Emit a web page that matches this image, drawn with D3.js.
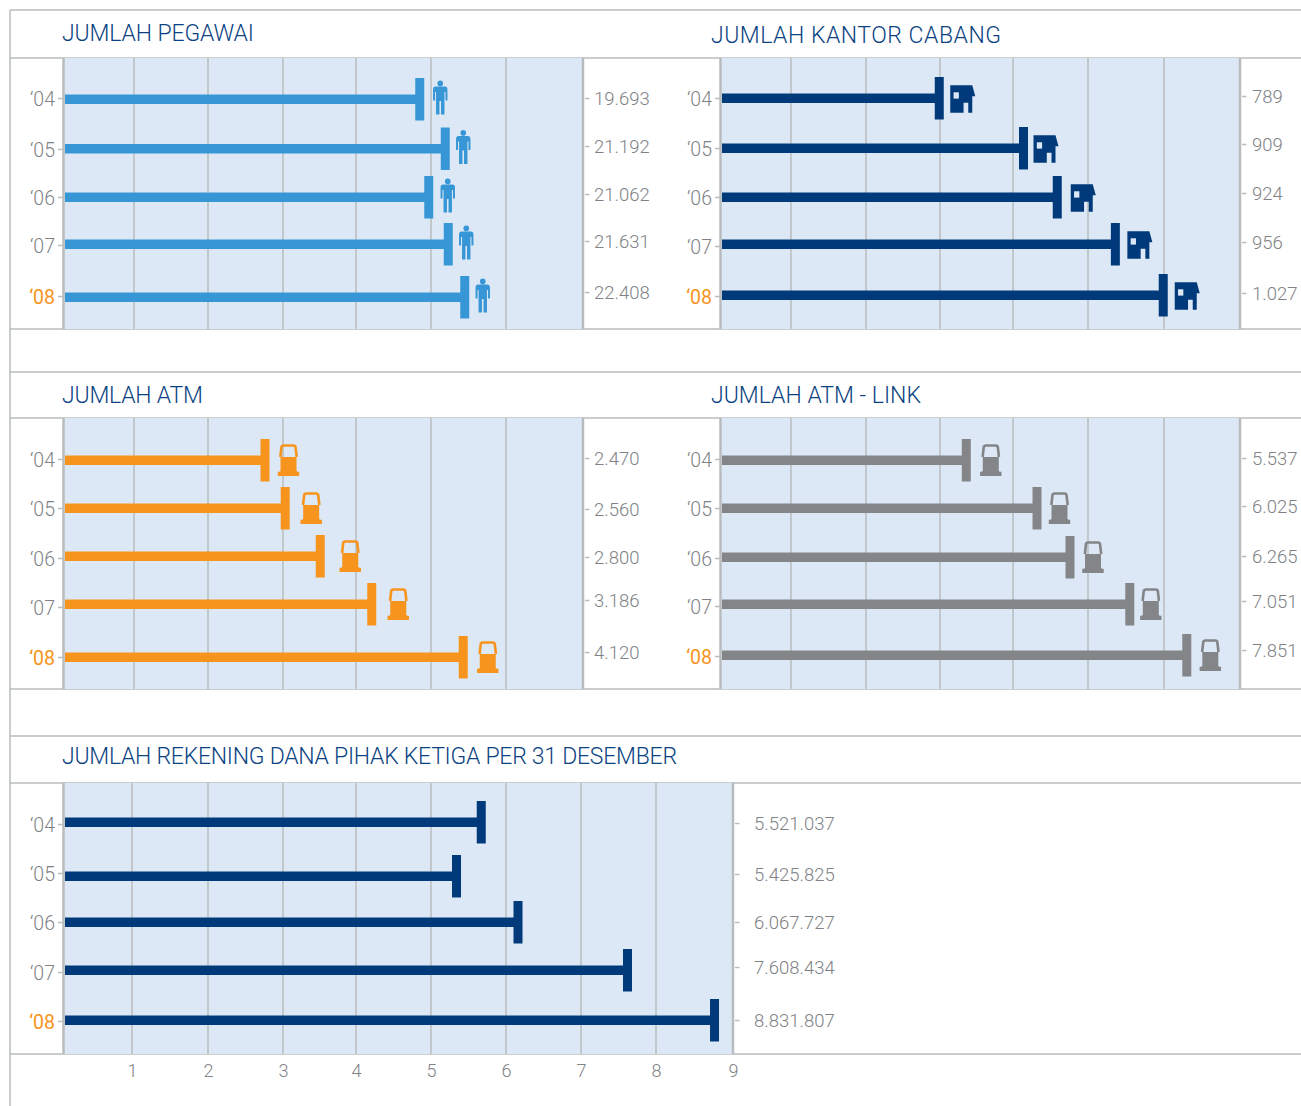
<!DOCTYPE html>
<html><head><meta charset="utf-8">
<script src="https://cdn.jsdelivr.net/npm/d3@7"></script>
<style>html,body{margin:0;padding:0;background:#fff}svg{display:block}text{font-family:Roboto,sans-serif;font-weight:300}</style>
</head><body><div id="c"></div>
<script>
const years = ["‘04","‘05","‘06","‘07","‘08"];
const axisTicks = [1,2,3,4,5,6,7,8,9];
const titles = ["JUMLAH PEGAWAI","JUMLAH KANTOR CABANG","JUMLAH ATM","JUMLAH ATM - LINK","JUMLAH REKENING DANA PIHAK KETIGA PER 31 DESEMBER"];
// Printed labels
const pegawaiLabels = ["19.693","21.192","21.062","21.631","22.408"];
const cabangLabels = ["789","909","924","956","1.027"];
const atmLabels = ["2.470","2.560","2.800","3.186","4.120"];
const linkLabels = ["5.537","6.025","6.265","7.051","7.851"];
const rekeningLabels = ["5.521.037","5.425.825","6.067.727","7.608.434","8.831.807"];
// Bar lengths as read against the gridlines (grid units)
const pegawaiBars = [4.85,5.19,4.97,5.23,5.45];
const cabangBars = [2.99,4.14,4.59,5.36,5.99];
const atmBars = [2.76,3.03,3.51,4.21,5.43];
const linkBars = [3.36,4.32,4.76,5.55,6.30];
const rekeningBars = [5.67,5.34,6.16,7.62,8.76];

const W=1301,H=1106,line="#b9bcbe",bg="#dde8f6",grey="#808285",orange="#f7941d";
const svg=d3.select("#c").append("svg").attr("width",W).attr("height",H);

// frame
[10,58,329,372,418,689,736,783,1054].forEach(y=>svg.append("line").attr("x1",10).attr("x2",W).attr("y1",y).attr("y2",y).attr("stroke",line).attr("stroke-width",1.5));
svg.append("line").attr("x1",10).attr("x2",10).attr("y1",10).attr("y2",H).attr("stroke",line).attr("stroke-width",1.5);

const icons={
 person:(g,c)=>{g.append("circle").attr("cy",-14.6).attr("r",2.8).attr("fill",c);
  g.append("path").attr("fill",c).attr("d","M-5,-11.5H5Q7.2,-11.5 7.2,-9V2.5H5.2V-6H4.2V16.5H0.8V3H-0.8V16.5H-4.2V-6H-5.2V2.5H-7.2V-9Q-7.2,-11.5 -5,-11.5Z");},
 house:(g,c)=>{g.append("path").attr("fill",c).attr("d","M-12.5,-13.7H9.5L12.5,-2.7H9.5V13.7H5.5V3.7H0.8V13.7H-12.5Z");
  g.append("rect").attr("x",-9.2).attr("y",-6.7).attr("width",5.3).attr("height",6.3).attr("fill",bg);},
 pump:(g,c)=>{g.append("path").attr("fill",c).attr("d","M-8,-4H8V10L9,10.8H10.7V15H-10.7V10.8H-9L-8,10Z");
  g.append("path").attr("fill","none").attr("stroke",c).attr("stroke-width",2.6).attr("d","M-8.2,-4L-7,-14Q-6.8,-15.5 -5,-15.5H5Q6.8,-15.5 7,-14L8.2,-4");}
};

function panel(o){
 const x=d3.scaleLinear().domain(o.gridUnits).range(o.gridX);
 const y=d3.scaleOrdinal().domain(years).range(o.rowY);
 const ly=d3.scaleOrdinal().domain(years).range(o.labelY);
 const yy=d3.scaleOrdinal().domain(years).range(o.yearY);
 const x0=o.gridX[0],x1=o.gridX[o.gridX.length-1];
 svg.append("rect").attr("x",x0).attr("y",o.top).attr("width",x1-x0).attr("height",o.bottom-o.top).attr("fill",bg);
 svg.append("g").selectAll("line").data(o.gridUnits.slice(1,-1)).join("line")
   .attr("x1",d=>x(d)).attr("x2",d=>x(d)).attr("y1",o.top).attr("y2",o.bottom).attr("stroke",line).attr("stroke-width",1.5);
 [x0-0.5,x1].forEach(v=>svg.append("line").attr("x1",v).attr("x2",v).attr("y1",o.top).attr("y2",o.bottom).attr("stroke",line).attr("stroke-width",2.5));
 // left axis
 const ax=svg.append("g").attr("transform",`translate(${x0-1},0)`).call(d3.axisLeft(yy).tickSize(5).tickPadding(3));
 ax.select(".domain").remove();
 ax.selectAll("line").attr("stroke",line).attr("stroke-width",1.5);
 ax.selectAll("text").attr("font-size",19.5).attr("fill",d=>d===years[4]?orange:grey).style("font-weight",d=>d===years[4]?400:300)
   .attr("dy","0.36em");
 // bars
 const rows=years.map((yr,i)=>({yr,v:o.bars[i],lab:o.labels[i],gap:o.iconGap?o.iconGap[i]:0}));
 const g=svg.append("g");
 g.selectAll(".bar").data(rows).join("rect").attr("x",x0+1).attr("y",d=>y(d.yr)-4.5).attr("height",9.5)
   .attr("width",d=>x(d.v)-x0-1).attr("fill",o.color);
 g.selectAll(".cap").data(rows).join("rect").attr("x",d=>x(d.v)-4.5).attr("y",d=>y(d.yr)-21).attr("width",9).attr("height",42.5).attr("fill",o.color);
 if(o.icon) rows.forEach(d=>{const ig=svg.append("g").attr("transform",`translate(${x(d.v)+d.gap},${y(d.yr)+o.iconDy})`);icons[o.icon](ig,o.color);});
 // right ticks and labels
 svg.append("g").selectAll("line").data(rows).join("line").attr("x1",x1+o.tickFrom).attr("x2",x1+o.tickFrom+4.5)
   .attr("y1",d=>ly(d.yr)-0.5).attr("y2",d=>ly(d.yr)-0.5).attr("stroke",line).attr("stroke-width",1.5);
 svg.append("g").selectAll("text").data(rows).join("text").attr("x",x1+o.labelDx).attr("y",d=>ly(d.yr)-1).attr("dy","0.36em")
   .attr("font-size",18.5).attr("fill",grey).text(d=>d.lab);
 svg.append("text").attr("x",o.titleX).attr("y",o.titleY).attr("dy","0.36em").attr("font-size",23).attr("fill","#0b4382")
   .attr("textLength",o.titleW).attr("lengthAdjust","spacing").text(o.title);
 return x;
}
const u7=[0,1,2,3,4,5,6,7];
panel({title:titles[0],titleX:62,titleY:33,titleW:192,top:58,bottom:329,gridUnits:u7,gridX:[64,134,208,283,356,431,506,583],
 rowY:[99,148.5,197,244,297],labelY:[99,147,195,242,293],yearY:[98,149,197,245,296],bars:pegawaiBars,labels:pegawaiLabels,color:"#3797d6",icon:"person",iconDy:-1,iconGap:[20.5,18,19,18,18],tickFrom:2,labelDx:11});
panel({title:titles[1],titleX:711,titleY:35,titleW:290,top:58,bottom:329,gridUnits:u7,gridX:[721,791,866,940,1013,1088,1164,1240],
 rowY:[98,148,197,244,295],labelY:[97,145,194,243,294],yearY:[98,148,197,246,296],bars:cabangBars,labels:cabangLabels,color:"#003a7a",icon:"house",iconDy:1,iconGap:[23.5,22.5,26,24.5,24],tickFrom:2,labelDx:12});
panel({title:titles[2],titleX:62,titleY:395,titleW:141,top:418,bottom:689,gridUnits:u7,gridX:[64,134,208,283,356,431,506,583],
 rowY:[460,508,556,604,657],labelY:[459,510,558,601,653],yearY:[459,508,558,607,657],bars:atmBars,labels:atmLabels,color:orange,icon:"pump",iconDy:1,iconGap:[23.5,26,30,26.5,24.5],tickFrom:2,labelDx:11});
panel({title:titles[3],titleX:711,titleY:395,titleW:210,top:418,bottom:689,gridUnits:u7,gridX:[721,791,866,940,1013,1088,1164,1240],
 rowY:[460,508,557,604,655],labelY:[459,507,557,602,651],yearY:[459,508,558,606,656],bars:linkBars,labels:linkLabels,color:"#838588",icon:"pump",iconDy:1,iconGap:[24.5,22.5,23,21,23.5],tickFrom:2,labelDx:12});
const xB=panel({title:titles[4],titleX:62,titleY:756,titleW:615,top:783,bottom:1054,gridUnits:[0,...axisTicks],gridX:[64,132,208,283,356,431,506,581,656,733],
 rowY:[822,876,922,970,1020],labelY:[824,875,923,968,1021],yearY:[824,873,922,972,1021],bars:rekeningBars,labels:rekeningLabels,color:"#003a7a",tickFrom:2,labelDx:21});

const b=svg.append("g").attr("transform","translate(0,1054)").call(d3.axisBottom(xB).tickValues(axisTicks).tickFormat(d3.format("d")).tickSize(0).tickPadding(10));
b.select(".domain").remove();
b.selectAll("text").attr("font-size",18).attr("fill",grey);
</script></body></html>
